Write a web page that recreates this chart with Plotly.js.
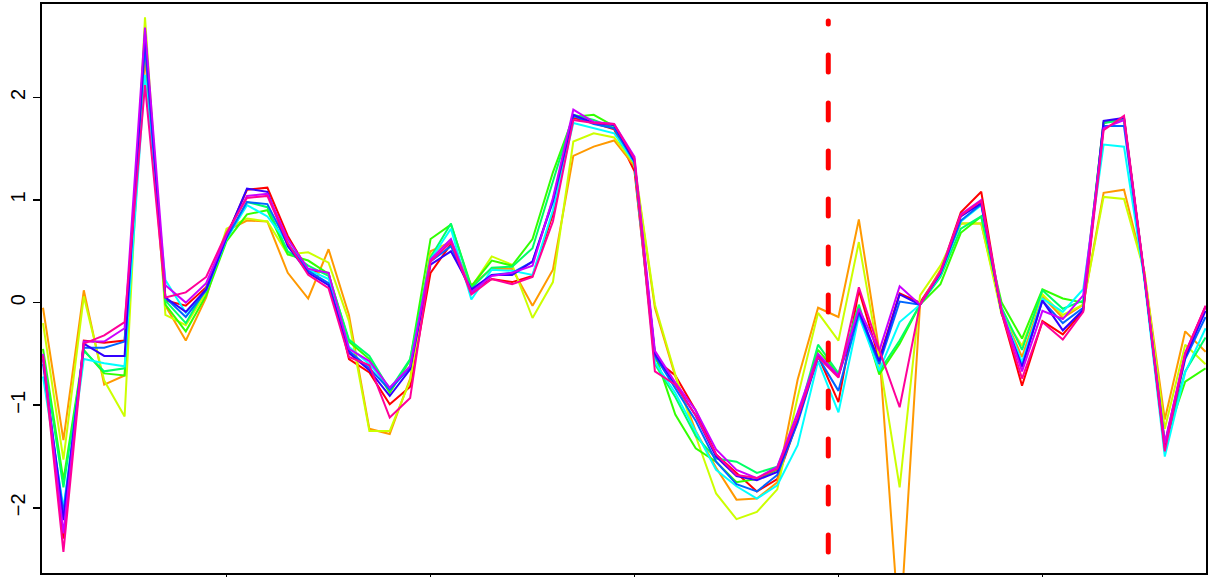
<!DOCTYPE html>
<html>
<head>
<meta charset="utf-8">
<script src="https://cdn.plot.ly/plotly-3.0.1.min.js"></script>
<style>
html,body{margin:0;padding:0;background:#fff;}
#chart{width:1216px;height:577px;}
</style>
</head>
<body>
<div id="chart"></div>
<script>
// x positions (1..58)
const xIndex = Array.from({length: 58}, (_, i) => i + 1);
const xTicks = [10, 20, 30, 40, 50];
const yTicks = [-2, -1, 0, 1, 2];
const yTickLabels = ["\u22122", "\u22121", "0", "1", "2"];
const changePoint = 39.5;
const changeSpan = [-2.43, 2.745];

const seriesColors = ["#FF0000", "#FF9900", "#CCFF00", "#33FF00", "#00FF66",
                      "#00FFFF", "#0066FF", "#3300FF", "#CC00FF", "#FF0099"];

const sRed = [-0.5,-2.3,-0.37,-0.39,-0.37,2.55,0.02,-0.03,0.15,0.65,1.1,1.12,0.65,0.31,0.29,-0.55,-0.68,-0.99,-0.82,0.29,0.57,0.12,0.23,0.2,0.26,0.86,1.8,1.75,1.69,1.28,-0.55,-0.71,-1.05,-1.48,-1.66,-1.84,-1.72,-1.15,-0.52,-0.97,0.12,-0.55,0.09,0.0,0.3,0.88,1.08,-0.1,-0.81,-0.18,-0.31,-0.08,1.75,1.8,0.25,-1.38,-0.5,-0.04];
const sOrange = [-0.05,-1.34,0.12,-0.8,-0.71,2.4,-0.03,-0.37,0.05,0.7,0.8,0.79,0.29,0.04,0.52,-0.12,-1.23,-1.28,-0.74,0.5,0.59,0.17,0.33,0.33,-0.03,0.32,1.43,1.52,1.58,1.33,-0.05,-0.72,-1.25,-1.61,-1.92,-1.91,-1.75,-0.75,-0.05,-0.14,0.81,-0.47,-3.25,-0.02,0.32,0.77,0.77,-0.08,-0.53,0.06,-0.15,-0.02,1.07,1.1,0.3,-1.14,-0.28,-0.48];
const sYellow = [-0.2,-1.53,0.06,-0.76,-1.11,2.78,-0.12,-0.22,0.1,0.72,0.82,0.79,0.47,0.49,0.39,-0.18,-1.25,-1.25,-0.76,0.47,0.6,0.15,0.45,0.37,-0.15,0.2,1.57,1.65,1.61,1.35,-0.02,-0.7,-1.3,-1.86,-2.11,-2.04,-1.82,-0.92,-0.1,-0.37,0.59,-0.55,-1.8,0.07,0.36,0.77,0.77,-0.12,-0.42,0.08,-0.12,-0.02,1.03,1.01,0.3,-1.23,-0.41,-0.6];
const sGreen = [-0.45,-1.73,-0.46,-0.69,-0.71,2.65,-0.02,-0.28,0.07,0.6,0.86,0.9,0.47,0.41,0.28,-0.38,-0.55,-0.88,-0.56,0.62,0.76,0.16,0.41,0.36,0.62,1.27,1.81,1.83,1.72,1.35,-0.5,-1.09,-1.42,-1.55,-1.75,-1.72,-1.63,-1.15,-0.46,-0.7,-0.05,-0.7,-0.4,-0.02,0.18,0.68,0.84,0.0,-0.35,0.13,0.04,0.0,1.76,1.79,0.25,-1.36,-0.77,-0.64];
const sSpring = [-0.5,-1.8,-0.47,-0.67,-0.64,2.6,0.02,-0.2,0.14,0.62,0.98,0.93,0.5,0.36,0.26,-0.36,-0.52,-0.85,-0.55,0.44,0.77,0.14,0.34,0.35,0.53,1.18,1.83,1.78,1.7,1.36,-0.6,-0.92,-1.3,-1.52,-1.55,-1.66,-1.6,-1.13,-0.41,-0.69,-0.02,-0.67,-0.37,-0.02,0.25,0.72,0.84,-0.05,-0.46,0.12,-0.06,0.02,1.75,1.78,0.25,-1.38,-0.67,-0.34];
const sCyan = [-0.72,-2.0,-0.55,-0.59,-0.62,2.22,0.22,-0.1,0.12,0.62,0.95,0.84,0.58,0.32,0.23,-0.43,-0.6,-0.83,-0.62,0.42,0.72,0.03,0.32,0.31,0.27,0.9,1.75,1.7,1.65,1.36,-0.58,-0.88,-1.25,-1.63,-1.79,-1.91,-1.78,-1.39,-0.57,-1.07,-0.13,-0.66,-0.19,-0.02,0.27,0.79,0.95,-0.08,-0.58,0.04,-0.09,0.13,1.54,1.52,0.22,-1.5,-0.68,-0.25];
const sAzure = [-0.6,-2.05,-0.44,-0.44,-0.38,2.5,0.05,-0.14,0.12,0.63,0.98,0.96,0.57,0.31,0.19,-0.47,-0.64,-0.85,-0.63,0.4,0.55,0.1,0.27,0.29,0.4,0.98,1.82,1.74,1.7,1.37,-0.52,-0.84,-1.15,-1.55,-1.77,-1.84,-1.68,-1.17,-0.53,-0.86,-0.1,-0.6,0.01,-0.02,0.28,0.8,0.96,-0.1,-0.62,0.02,-0.2,-0.05,1.72,1.72,0.24,-1.42,-0.55,-0.14];
const sBlue = [-0.55,-2.12,-0.4,-0.52,-0.52,2.62,0.05,-0.09,0.13,0.64,1.11,1.08,0.55,0.29,0.17,-0.49,-0.66,-0.91,-0.65,0.37,0.5,0.13,0.27,0.27,0.4,1.0,1.83,1.75,1.73,1.38,-0.5,-0.8,-1.1,-1.5,-1.69,-1.73,-1.65,-1.14,-0.52,-0.72,-0.08,-0.57,0.08,-0.02,0.29,0.84,0.97,-0.1,-0.63,0.02,-0.27,-0.07,1.77,1.8,0.25,-1.4,-0.53,-0.08];
const sViolet = [-0.5,-2.25,-0.38,-0.38,-0.25,2.68,0.17,0.0,0.19,0.66,1.04,1.06,0.62,0.33,0.29,-0.45,-0.57,-0.83,-0.62,0.42,0.62,0.1,0.26,0.29,0.36,1.02,1.88,1.76,1.74,1.42,-0.47,-0.78,-1.05,-1.43,-1.63,-1.71,-1.6,-1.07,-0.5,-0.71,-0.06,-0.47,0.16,-0.02,0.3,0.86,1.0,-0.07,-0.67,-0.08,-0.16,0.07,1.7,1.78,0.26,-1.37,-0.49,-0.04];
const sPink = [-0.52,-2.43,-0.4,-0.32,-0.19,2.12,0.05,0.1,0.25,0.68,1.02,1.04,0.58,0.27,0.14,-0.53,-0.61,-1.12,-0.93,0.4,0.59,0.08,0.23,0.18,0.25,0.79,1.78,1.75,1.74,1.4,-0.67,-0.8,-1.1,-1.48,-1.68,-1.71,-1.62,-1.12,-0.53,-0.73,0.15,-0.46,-1.02,-0.02,0.3,0.85,0.99,-0.1,-0.74,-0.19,-0.36,-0.09,1.68,1.82,0.27,-1.45,-0.5,-0.03];

const allSeries = [sRed, sOrange, sYellow, sGreen, sSpring, sCyan, sAzure, sBlue, sViolet, sPink];

const traces = allSeries.map((ys, i) => ({
  x: xIndex,
  y: ys,
  type: 'scatter',
  mode: 'lines',
  line: {color: seriesColors[i], width: 2},
  hoverinfo: 'skip',
  showlegend: false
}));

const layout = {
  width: 1216,
  height: 577,
  margin: {l: 42, r: 10, t: 4, b: 4, pad: 0},
  paper_bgcolor: '#ffffff',
  plot_bgcolor: '#ffffff',
  showlegend: false,
  font: {family: 'Liberation Sans, Arial, sans-serif', color: '#000000'},
  xaxis: {
    range: [0.95, 58.02],
    tickvals: xTicks,
    ticks: 'outside',
    ticklen: 7,
    tickwidth: 1.5,
    tickcolor: '#000',
    showticklabels: false,
    showline: true,
    mirror: true,
    linecolor: '#000',
    linewidth: 2,
    showgrid: false,
    zeroline: false
  },
  yaxis: {
    range: [-2.635, 2.91],
    tickvals: yTicks,
    ticktext: yTickLabels,
    ticks: 'outside',
    ticklen: 7,
    tickwidth: 1.5,
    tickcolor: '#000',
    tickangle: -90,
    tickfont: {size: 20, color: '#000', family: 'Liberation Sans, Arial, sans-serif'},
    showline: true,
    mirror: true,
    linecolor: '#000',
    linewidth: 2,
    showgrid: false,
    zeroline: false
  },
  shapes: [{
    type: 'line',
    xref: 'x', yref: 'y',
    x0: changePoint, x1: changePoint,
    y0: changeSpan[0], y1: changeSpan[1],
    layer: 'above',
    line: {color: '#FF0000', width: 5, dash: '17px,31px'}
  }]
};

Plotly.newPlot('chart', traces, layout, {staticPlot: true, displayModeBar: false}).then(() => {
  document.querySelectorAll('.shapelayer path').forEach(p => {
    p.style.strokeLinecap = 'round';
  });
});
</script>
</body>
</html>
